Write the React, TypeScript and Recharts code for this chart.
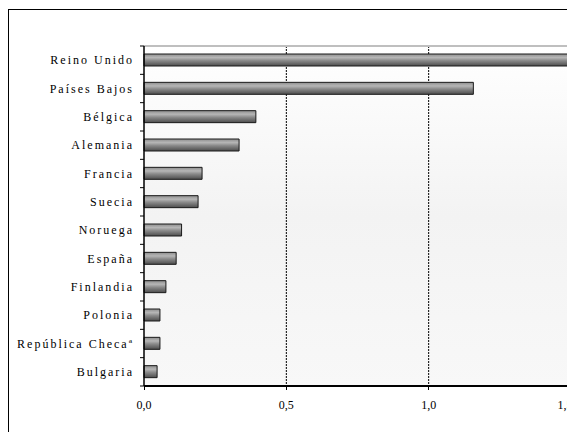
import React from 'react';
import { BarChart, Bar, XAxis, YAxis, CartesianGrid, ReferenceLine } from 'recharts';

const countries = [
  'Reino Unido',
  'Países Bajos',
  'Bélgica',
  'Alemania',
  'Francia',
  'Suecia',
  'Noruega',
  'España',
  'Finlandia',
  'Polonia',
  'República Checaª',
  'Bulgaria',
];
const values = [1.5, 1.157, 0.393, 0.334, 0.204, 0.19, 0.132, 0.113, 0.077, 0.056, 0.056, 0.046];
const xTicks = [0, 0.5, 1, 1.5];

const data = countries.map((name, i) => ({ name, value: values[i] }));

// category label plus a small tick at the top edge of each band
function CategoryTick(props: any) {
  const { x, y, payload, index } = props;
  const half = payload && payload.offset != null ? payload.offset : 14;
  const ax = x + 10;
  return (
    <g>
      <line x1={ax - 4} x2={ax} y1={y - half} y2={y - half} stroke="#000" />
      {index === countries.length - 1 && (
        <line x1={ax - 4} x2={ax} y1={y + half} y2={y + half} stroke="#000" />
      )}
      <text
        x={x}
        y={y}
        dy="0.35em"
        textAnchor="end"
        fill="#000"
        fontFamily="Liberation Serif"
        fontSize={12}
        letterSpacing={2}
      >
        {payload.value}
      </text>
    </g>
  );
}

function ValueTick(props: any) {
  const { x, y, payload } = props;
  return (
    <text x={x} y={y} dy="0.71em" textAnchor="middle" fill="#000" fontFamily="Liberation Serif" fontSize={12}>
      {Number(payload.value).toFixed(1).replace('.', ',')}
    </text>
  );
}

export default function App() {
  return (
    <div style={{ position: 'relative', width: 567, height: 424, overflow: 'hidden' }}>
      <div
        style={{
          position: 'absolute',
          left: 0,
          top: 1,
          width: 620,
          height: 470,
          border: '1px solid #000',
          boxSizing: 'border-box',
        }}
      />
      <div style={{ position: 'relative' }}>
        <BarChart
          width={567}
          height={424}
          data={data}
          layout="vertical"
          margin={{ top: 37, right: 4, bottom: 0, left: 0 }}
        >
          <defs>
            <linearGradient id="barFill" x1="0" y1="0" x2="0" y2="1">
              <stop offset="0%" stopColor="#8e8e8e" />
              <stop offset="30%" stopColor="#b6b6b6" />
              <stop offset="55%" stopColor="#8a8a8a" />
              <stop offset="100%" stopColor="#4c4c4c" />
            </linearGradient>
            <linearGradient id="plotBg" x1="0" y1="0" x2="0" y2="1">
              <stop offset="0%" stopColor="#ffffff" />
              <stop offset="50%" stopColor="#f3f3f3" />
              <stop offset="100%" stopColor="#f8f8f8" />
            </linearGradient>
          </defs>
          <CartesianGrid
            horizontal={false}
            verticalValues={[0.5, 1]}
            stroke="#000"
            strokeDasharray="2 1"
            fill="url(#plotBg)"
            fillOpacity={1}
          />
          <XAxis
            xAxisId="top"
            orientation="top"
            type="number"
            domain={[0, 1.5]}
            height={1}
            tick={false}
            tickLine={false}
            axisLine={{ stroke: '#bfbfbf', strokeWidth: 2 }}
          />
          <ReferenceLine x={1.5} stroke="#bfbfbf" strokeWidth={2} />
          <Bar
            dataKey="value"
            fill="url(#barFill)"
            stroke="#1a1a1a"
            strokeWidth={1}
            barSize={12}
            isAnimationActive={false}
          />
          <XAxis
            type="number"
            domain={[0, 1.5]}
            ticks={xTicks}
            height={46}
            axisLine={{ stroke: '#000', strokeWidth: 2, shapeRendering: 'crispEdges' }}
            tickLine={{ stroke: '#000', strokeWidth: 1, shapeRendering: 'crispEdges' }}
            tickSize={4}
            tickMargin={10}
            tick={<ValueTick />}
          />
          <YAxis
            type="category"
            dataKey="name"
            width={136}
            axisLine={{ stroke: '#000', strokeWidth: 1.5 }}
            tickSize={4}
            tickMargin={6}
            tickLine={false}
            interval={0}
            tick={<CategoryTick />}
          />
        </BarChart>
      </div>
    </div>
  );
}
